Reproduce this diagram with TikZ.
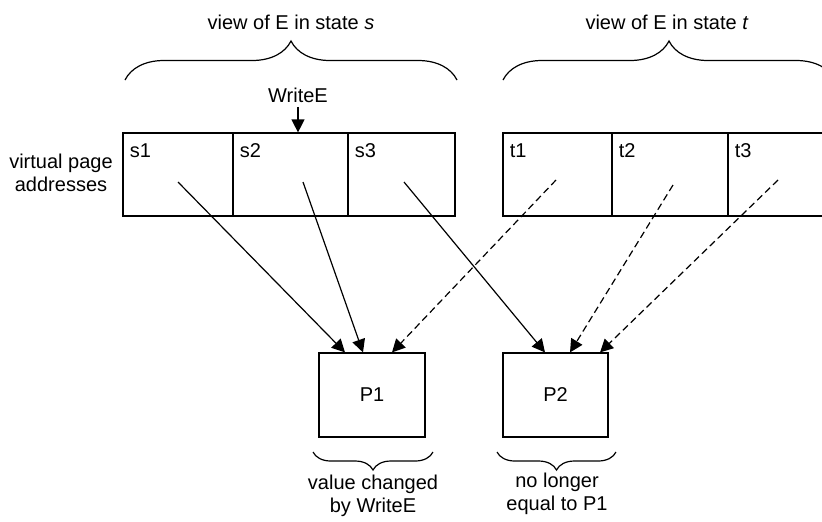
\documentclass[tikz,border=0pt]{standalone}
\usepackage{fontspec}
\setmainfont{Liberation Sans}
\usetikzlibrary{arrows.meta,decorations.pathreplacing,positioning}

\tikzset{
  page/.style={draw,line width=0.6pt,inner sep=0pt},
  vlink/.style={line width=0.6pt,-{Triangle[length=6.5pt,width=6.5pt]}},
  vlinkd/.style={vlink,dash pattern=on 3.5pt off 2pt},
  brc/.style={decorate,decoration={brace,amplitude=#1},line width=0.6pt},
}

\begin{document}
\begin{tikzpicture}[x=0.5pt,y=-0.5pt,font=\fontsize{10}{11.5}\selectfont]
  \path[use as bounding box,clip] (0,0) rectangle (822,521);

  \def\ymid{174.5}
  \def\cellh{41.5pt}

  % the two views of E
  \foreach \n/\a/\b in {s1/123/233,s2/233/348,s3/348/455,t1/503/612,t2/612/728,t3/728/835} {
    \pgfmathsetmacro{\w}{(\b-\a)/2}
    \node[page,minimum width=\w pt,minimum height=\cellh] (\n) at ({(\a+\b)/2},\ymid) {};
    \node[anchor=base west,inner sep=0pt] (\n-lbl) at ([xshift=3.5pt,yshift=-12.5pt]\n.north west) {\n};
  }

  \node[page,minimum width=53pt,minimum height=42pt] (P1) at (372,395) {P1};
  \node[page,minimum width=52.5pt,minimum height=42pt] (P2) at (555.5,395) {P2};

  \node (viewS) at (291,22) {view of E in state \textit{s}};
  \node (viewT) at (667,22) {view of E in state \textit{t}};
  \node[inner sep=2pt] (writeE) at (298,95) {WriteE};
  \node[align=center] (vpa) at (61,173) {virtual page\\addresses};
  \node[align=center] (noteP1) at (373,496) {value changed\\by WriteE};
  \node[align=center] (noteP2) at (557,494) {no longer\\equal to P1};

  \draw[brc=19.5pt] (125,80) -- (457,80);
  \draw[brc=19.5pt] (503,80) -- (835,80);
  \draw[brc=9pt] (433,452) -- (313,452);
  \draw[brc=9pt] (616,452) -- (497,452);

  \draw[vlink] (writeE.south) -- (writeE.south |- s2.north);

  \draw[vlink] ([yshift=-3.75pt]s1.center) -- ([xshift=-13.5pt]P1.north);
  \draw[vlink] ([xshift=6.25pt,yshift=-3.75pt]s2.center) -- ([xshift=-4.5pt]P1.north);
  \draw[vlink] ([xshift=1.25pt,yshift=-3.75pt]s3.center) -- ([xshift=-5.25pt]P2.north);
  \draw[vlinkd] ([xshift=-0.75pt,yshift=-2.75pt]t1.center) -- ([xshift=10pt]P1.north);
  \draw[vlinkd] ([xshift=1.5pt,yshift=-5.25pt]t2.center) -- ([xshift=7.25pt]P2.north);
  \draw[vlinkd] ([xshift=-1.75pt,yshift=-2.75pt]t3.center) -- ([xshift=22.25pt]P2.north);

\end{tikzpicture}
\end{document}
